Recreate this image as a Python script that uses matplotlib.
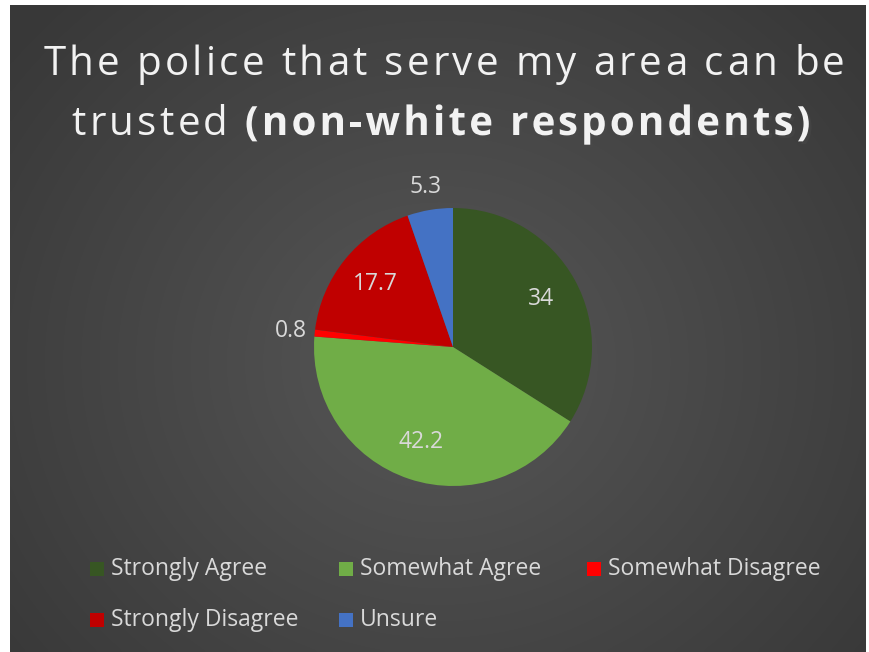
import numpy as np
import matplotlib
matplotlib.use("Agg")
import matplotlib.pyplot as plt
import matplotlib.patheffects as pe
from matplotlib.patches import Rectangle

# survey answers (percent of non-white respondents)
labels = ["Strongly Agree", "Somewhat Agree", "Somewhat Disagree", "Strongly Disagree", "Unsure"]
values = [34, 42.2, 0.8, 17.7, 5.3]
colors = ["#375623", "#70AD47", "#FF0000", "#C00000", "#4472C4"]

title_line1 = "The police that serve my area can be"
title_plain = "trusted "
title_bold = "(non-white respondents)"

W, H = 869, 652
fig = plt.figure(figsize=(W / 100, H / 100), dpi=100)
fig.patch.set_facecolor("white")

# dark radial backdrop, white strip on the left and top
bg = fig.add_axes([10 / W, 0, (W - 13) / W, (H - 5) / H])
yy, xx = np.mgrid[0:200, 0:260]
d = np.hypot((xx - 130) / 130, (yy - 110) / 120)
shade = 0.34 - 0.12 * np.clip(d, 0, 1.3) / 1.3
bg.imshow(np.dstack([shade] * 3), aspect="auto", interpolation="bicubic")
bg.axis("off")

font = "Open Sans"
txt = "#F2F2F2"
r = fig.canvas.get_renderer()


def text_width(s, **kw):
    t = fig.text(0, 0, s, **kw)
    w = t.get_window_extent(r).width
    t.remove()
    return w


def spaced_text(x, y, s, track, **kw):
    # draw s char by char from pixel x with extra spacing; returns end x
    for i, ch in enumerate(s):
        xi = x + (text_width(s[:i], **kw) if i else 0) + i * track
        fig.text(xi / W, 1 - y / H, ch, ha="left", va="baseline", **kw)
    return x + text_width(s, **kw) + len(s) * track


track = 3.3
title_kw = dict(fontsize=29, color=txt, family=font)
bold_kw = dict(title_kw, weight="bold",
               path_effects=[pe.SimplePatchShadow(offset=(2, -2), alpha=0.5), pe.Normal()])

w = text_width(title_line1, **title_kw) + (len(title_line1) - 1) * track
spaced_text(444 - w / 2, 75, title_line1, track, **title_kw)

w = (text_width(title_plain, **title_kw) + len(title_plain) * track
     + text_width(title_bold, **bold_kw) + (len(title_bold) - 1) * track)
x = spaced_text(441 - w / 2, 135, title_plain, track, **title_kw)
spaced_text(x, 135, title_bold, track, **bold_kw)

# pie
R = 139
cx, cy = 453, 347
ax = fig.add_axes([(cx - R) / W, 1 - (cy + R) / H, 2 * R / W, 2 * R / H])
wedges, _ = ax.pie(values, colors=colors, startangle=90, counterclock=False,
                   radius=1, wedgeprops=dict(linewidth=0))
ax.set_xlim(-1, 1)
ax.set_ylim(-1, 1)
ax.set_aspect("equal")
ax.axis("off")

lab_col = "#D9D9D9"
for wd, v in zip(wedges, values):
    ang = np.deg2rad((wd.theta1 + wd.theta2) / 2)
    dist = 0.72 if v > 10 else 1.17
    ax.text(dist * np.cos(ang), dist * np.sin(ang), f"{v:g}", ha="center", va="center",
            fontsize=16.5, color=lab_col, family=font, clip_on=False)

# legend laid out in two rows
leg_x = [90, 339, 587]
leg_y = [569, 620]
for i, (lab, col) in enumerate(zip(labels, colors)):
    row, c = divmod(i, 3)
    x, y = leg_x[c], leg_y[row]
    fig.patches.append(Rectangle((x / W, 1 - (y + 7) / H), 14 / W, 14 / H,
                                 transform=fig.transFigure, facecolor=col, edgecolor="none"))
    fig.text((x + 21) / W, 1 - y / H, lab, ha="left", va="center",
             fontsize=16.5, color=lab_col, family=font)

fig.savefig("out.png", dpi=100, facecolor=fig.get_facecolor())
